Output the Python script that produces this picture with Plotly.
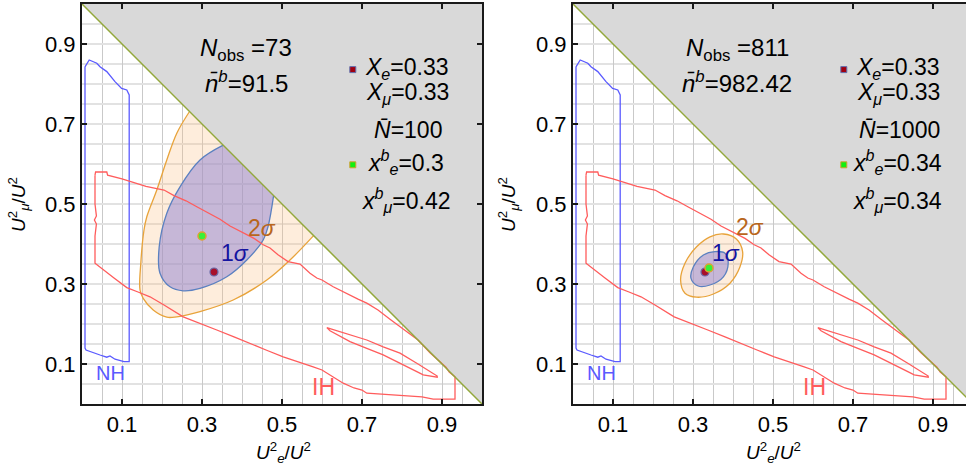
import plotly.graph_objects as go

# ---------------- data ----------------
TICK_VALS = [0.1, 0.3, 0.5, 0.7, 0.9]
TICK_TEXT = ["0.1", "0.3", "0.5", "0.7", "0.9"]

# IH (inverted hierarchy) allowed region, outer boundary
IH_OUTER_X = [0.0325, 0.034, 0.062, 0.064, 0.10, 0.13, 0.16, 0.19, 0.205, 0.23, 0.26, 0.287, 0.32, 0.345, 0.37,
              0.40, 0.43, 0.453, 0.47, 0.49, 0.515, 0.545, 0.57, 0.587, 0.60, 0.628, 0.66, 0.69, 0.712, 0.74,
              0.77, 0.795, 0.82, 0.84, 0.87, 0.89, 0.903, 0.91, 0.918, 0.9325, 0.9325, 0.90, 0.878, 0.85, 0.82,
              0.795, 0.75, 0.712, 0.70, 0.68, 0.653, 0.62, 0.60, 0.578, 0.54, 0.503, 0.46, 0.42, 0.38, 0.337,
              0.30, 0.253, 0.205, 0.17, 0.14, 0.112, 0.08, 0.045, 0.0325, 0.0325, 0.036, 0.031, 0.036, 0.0325,
              0.0325]
IH_OUTER_Y = [0.572, 0.580, 0.580, 0.572, 0.563, 0.553, 0.544, 0.538, 0.535, 0.521, 0.508, 0.493, 0.476, 0.462, 0.445,
              0.43, 0.414, 0.398, 0.39, 0.373, 0.356, 0.35, 0.327, 0.315, 0.31, 0.293, 0.276, 0.262, 0.252, 0.235,
              0.212, 0.193, 0.175, 0.16, 0.128, 0.11, 0.097, 0.092, 0.08, 0.068, 0.012, 0.012, 0.012, 0.018, 0.02,
              0.0225, 0.025, 0.027, 0.035, 0.04, 0.052, 0.072, 0.085, 0.093, 0.105, 0.118, 0.135, 0.152, 0.168, 0.185,
              0.20, 0.218, 0.2475, 0.268, 0.28, 0.291, 0.315, 0.343, 0.352, 0.42, 0.45, 0.46, 0.47, 0.50,
              0.572]

# IH thin inner loop
IH_INNER_X = [0.612, 0.67, 0.712, 0.753, 0.795, 0.837, 0.878, 0.888, 0.888, 0.853, 0.837, 0.795, 0.753, 0.712,
              0.67, 0.62, 0.612]
IH_INNER_Y = [0.191, 0.173, 0.16, 0.143, 0.127, 0.102, 0.077, 0.07, 0.067, 0.073, 0.081, 0.102, 0.123, 0.139,
              0.156, 0.183, 0.191]

# NH (normal hierarchy) allowed region
NH_X = [0.0075, 0.018, 0.037, 0.045, 0.062, 0.0825, 0.099, 0.112, 0.118, 0.118, 0.118, 0.105, 0.0825, 0.07,
        0.062, 0.045, 0.02, 0.01, 0.0075, 0.0075]
NH_Y = [0.843, 0.86, 0.852, 0.843, 0.831, 0.806, 0.789, 0.785, 0.7725, 0.145, 0.106, 0.106, 0.112, 0.12,
        0.117, 0.1225, 0.131, 0.135, 0.14, 0.843]

# left panel (N = 100): 2 sigma and 1 sigma contours (ends on the x+y=1 line)
SIG2_L_X = [0.268, 0.237, 0.212, 0.187, 0.162, 0.155, 0.147, 0.145, 0.153, 0.178, 0.212, 0.237, 0.295, 0.378,
            0.462, 0.52, 0.579]
SIG2_L_Y = [0.730, 0.677, 0.61, 0.535, 0.468, 0.435, 0.352, 0.285, 0.264, 0.235, 0.217, 0.218, 0.231, 0.26,
            0.31, 0.36, 0.421]
SIG1_L_X = [0.353, 0.295, 0.245, 0.212, 0.193, 0.195, 0.22, 0.253, 0.295, 0.362, 0.412, 0.453, 0.465, 0.479]
SIG1_L_Y = [0.647, 0.61, 0.543, 0.477, 0.393, 0.327, 0.293, 0.283, 0.289, 0.318, 0.36, 0.41, 0.443, 0.521]

# right panel (N = 1000): closed contours
SIG2_R_X = [0.376, 0.409, 0.424, 0.4175, 0.3925, 0.351, 0.309, 0.28, 0.269, 0.28, 0.309, 0.3425, 0.376]
SIG2_R_Y = [0.425, 0.412, 0.381, 0.343, 0.302, 0.275, 0.267, 0.277, 0.31, 0.352, 0.393, 0.418, 0.425]
SIG1_R_X = [0.355, 0.38, 0.388, 0.376, 0.3425, 0.313, 0.295, 0.301, 0.326, 0.355]
SIG1_R_Y = [0.381, 0.377, 0.352, 0.318, 0.2975, 0.295, 0.314, 0.343, 0.3725, 0.381]

TRUE_X = [0.33, 0.33]          # X_e for each panel
TRUE_Y = [0.33, 0.33]          # X_mu for each panel
BEST_X = [0.30, 0.34]          # x_e^b
BEST_Y = [0.42, 0.34]          # x_mu^b
N_OBS = [73, 811]
N_B = ["91.5", "982.42"]
N_BAR = [100, 1000]
X_E_TXT = ["0.33", "0.33"]
X_MU_TXT = ["0.33", "0.33"]
XB_E_TXT = ["0.3", "0.34"]
XB_MU_TXT = ["0.42", "0.34"]

# ---------------- style ----------------
FONT = "Liberation Sans, Arial, sans-serif"
W, H = 966, 472
GRAY = "#d9d9d9"
DIAG = "#93a83c"
RED = "#ff5c5c"
BLUE = "#5a5aff"

fig = go.Figure()

XR = [[0, 1], [0, (966 - 573) / 400]]

for i in range(2):
    xa = "x" if i == 0 else "x2"
    ya = "y" if i == 0 else "y2"
    if i == 0:
        sx2, sy2, sx1, sy1 = SIG2_L_X, SIG2_L_Y, SIG1_L_X, SIG1_L_Y
    else:
        sx2, sy2, sx1, sy1 = SIG2_R_X, SIG2_R_Y, SIG1_R_X, SIG1_R_Y
    fig.add_trace(go.Scatter(x=sx2, y=sy2, mode="lines", fill="toself",
                             line=dict(color="#e8a33a", width=1.3, shape="spline"),
                             fillcolor="rgba(250,190,130,0.28)", hoverinfo="skip", xaxis=xa, yaxis=ya))
    fig.add_trace(go.Scatter(x=sx1, y=sy1, mode="lines", fill="toself",
                             line=dict(color="#5b80c0", width=1.3, shape="spline"),
                             fillcolor="rgba(145,135,210,0.52)", hoverinfo="skip", xaxis=xa, yaxis=ya))
    # excluded region x+y>1
    fig.add_trace(go.Scatter(x=[0, 1, 1, 0], y=[1, 1, 0, 1], mode="lines", fill="toself",
                             line=dict(width=0, color=GRAY), fillcolor=GRAY, hoverinfo="skip",
                             xaxis=xa, yaxis=ya))
    # NH / IH contours
    fig.add_trace(go.Scatter(x=NH_X, y=NH_Y, mode="lines", line=dict(color=BLUE, width=1.3),
                             hoverinfo="skip", xaxis=xa, yaxis=ya))
    fig.add_trace(go.Scatter(x=IH_OUTER_X, y=IH_OUTER_Y, mode="lines", line=dict(color=RED, width=1.3),
                             hoverinfo="skip", xaxis=xa, yaxis=ya))
    fig.add_trace(go.Scatter(x=IH_INNER_X, y=IH_INNER_Y, mode="lines", line=dict(color=RED, width=1.3),
                             hoverinfo="skip", xaxis=xa, yaxis=ya))
    # diagonal
    fig.add_trace(go.Scatter(x=[0, 1], y=[1, 0], mode="lines", line=dict(color=DIAG, width=1.5),
                             hoverinfo="skip", xaxis=xa, yaxis=ya))
    # points
    fig.add_trace(go.Scatter(x=[TRUE_X[i]], y=[TRUE_Y[i]], mode="markers",
                             marker=dict(size=8, color="#a8102a", line=dict(color="#6a6aa8", width=1.2)),
                             hoverinfo="skip", xaxis=xa, yaxis=ya))
    fig.add_trace(go.Scatter(x=[BEST_X[i]], y=[BEST_Y[i]], mode="markers",
                             marker=dict(size=8, color="#38f038", line=dict(color="#e0a030", width=1.5)),
                             hoverinfo="skip", xaxis=xa, yaxis=ya))
    # legend squares
    fig.add_trace(go.Scatter(x=[0.677, 0.677], y=[0.836, 0.598], mode="markers",
                             marker=dict(size=6, symbol="square", color=["#a00010", "#10f010"],
                                         line=dict(color=["#6070b0", "#d0a030"], width=1)),
                             hoverinfo="skip", xaxis=xa, yaxis=ya))

fig.update_layout(showlegend=False)

ann = []
def A(text, x, y, xref, yref, size=23, color="black", xanchor="center", angle=None):
    d = dict(text=text, x=x, y=y, xref=xref, yref=yref, showarrow=False,
             font=dict(family=FONT, size=size, color=color), xanchor=xanchor, yanchor="middle")
    if angle is not None:
        d["textangle"] = angle
    ann.append(d)

for i in range(2):
    xr = "x" if i == 0 else "x2"
    yr = "y" if i == 0 else "y2"
    A(f"<i>N</i><sub>obs</sub> ={N_OBS[i]}", 0.41, 0.885, xr, yr, size=24)
    A(f"<i>n\u0304</i><sup><i>b</i></sup>={N_B[i]}", 0.41, 0.806, xr, yr, size=24)
    A(f"<i>X<sub>e</sub></i>=" + X_E_TXT[i], 0.813, 0.839, xr, yr)
    A(f"<i>X<sub>\u03bc</sub></i>=" + X_MU_TXT[i], 0.813, 0.775, xr, yr)
    A(f"<i>N\u0304</i>={N_BAR[i]}", 0.815, 0.685, xr, yr)
    A(f"<i>x</i><sup><i>b</i></sup><sub><i>e</i></sub>=" + XB_E_TXT[i], 0.81, 0.605, xr, yr)
    A(f"<i>x</i><sup><i>b</i></sup><sub><i>\u03bc</i></sub>=" + XB_MU_TXT[i], 0.81, 0.51, xr, yr)
    A("NH", 0.07, 0.077, xr, yr, size=20, color=BLUE)
    A("IH", 0.603, 0.043, xr, yr, size=23, color=RED)
    A("1<i>\u03c3</i>", 0.383, 0.377, xr, yr, size=23, color="#1414a0")
    A("2<i>\u03c3</i>", 0.449 if i == 0 else 0.4425, 0.44 if i == 0 else 0.443, xr, yr, size=23, color="#b8661c")

# axis titles (paper coordinates)
for xc in [283 / W, 773 / W]:
    A("<i>U</i><sup>2</sup><sub><i>e</i></sub>/<i>U</i><sup>2</sup>", xc, (472 - 452) / 472, "paper", "paper", size=19)
for xc in [19 / W, 509 / W]:
    A("<i>U</i><sup>2</sup><sub><i>\u03bc</i></sub>/<i>U</i><sup>2</sup>", xc, (472 - 205) / 472, "paper", "paper",
      size=19, angle=-90)

fig.update_layout(annotations=ann)

ydom = [(472 - 404) / 472, (472 - 4) / 472]
axis_common = dict(showline=True, linecolor="#1a1a1a", linewidth=2, ticks="inside", ticklen=5, tickwidth=2,
                   tickcolor="#1a1a1a", tickvals=TICK_VALS, ticktext=TICK_TEXT,
                   tickfont=dict(family=FONT, size=22, color="black"),
                   zeroline=False)
GRIDV = [i * 0.05 for i in range(1, 20)]
xgrid = dict(showgrid=True, gridcolor="#c9c9c9", gridwidth=1,
             minor=dict(tickmode="array", tickvals=GRIDV, showgrid=True,
                        gridcolor="#c9c9c9", gridwidth=1, ticks=""))
ygrid = dict(showgrid=True, gridcolor="#e2e2e2", gridwidth=2,
             minor=dict(tickmode="array", tickvals=GRIDV, showgrid=True,
                        gridcolor="#e2e2e2", gridwidth=2, ticks=""))

fig.update_layout(
    width=W, height=H, margin=dict(l=0, r=0, t=0, b=0),
    paper_bgcolor="white", plot_bgcolor="white",
    xaxis=dict(domain=[82 / W, 482 / W], range=XR[0], mirror="ticks", anchor="y", **axis_common, **xgrid),
    yaxis=dict(domain=ydom, range=[0, 1], mirror="ticks", anchor="x", **axis_common, **ygrid),
    xaxis2=dict(domain=[573 / W, 1.0], range=XR[1], mirror="ticks", anchor="y2", **axis_common, **xgrid),
    yaxis2=dict(domain=ydom, range=[0, 1], mirror=False, anchor="x2", **axis_common, **ygrid),
)

fig.write_html("out.html", config={"displayModeBar": False},
               post_script="document.body.style.margin='0px';document.body.style.overflow='hidden';")
